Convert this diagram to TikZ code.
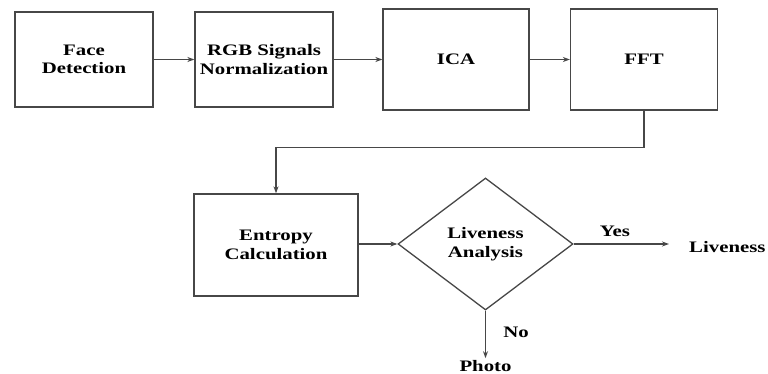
\documentclass[tikz,border=0pt]{standalone}
\usepackage{fontspec}
\setmainfont[FakeStretch=1.3]{Liberation Serif}
\usetikzlibrary{shapes.geometric,arrows.meta}
\begin{document}
\begin{tikzpicture}[x=1pt,y=-1pt,
  stagebox/.style={draw=black!72,line width=1.3pt,rectangle,inner sep=0pt,
    align=center,font=\fontsize{16}{18.5}\selectfont\bfseries},
  decision/.style={draw=black!72,line width=1.3pt,diamond,inner sep=0pt,
    align=center,font=\fontsize{16}{18.5}\selectfont\bfseries},
  plain/.style={inner sep=2pt,font=\fontsize{16}{18.5}\selectfont\bfseries},
  flow/.style={draw=black!72,line width=1.2pt,-{Stealth[length=7pt,width=5pt]}}]
\useasboundingbox (0,0) rectangle (768,374);
% processing chain
\node[stagebox,minimum width=138pt,minimum height=95pt] (face) at (84,59.5) {Face\\Detection};
\node[stagebox,minimum width=138pt,minimum height=95pt] (rgb) at (264,59.5) {RGB Signals\\Normalization};
\node[stagebox,minimum width=146pt,minimum height=101pt] (ica) at (456,59.5) {ICA};
\node[stagebox,minimum width=147pt,minimum height=101pt] (fft) at (644,59.5) {FFT};
\node[stagebox,minimum width=164pt,minimum height=102pt] (ent) at (276,245) {Entropy\\Calculation};
\node[decision,minimum width=175pt,minimum height=132pt] (dec) at (485.5,244) {Liveness\\Analysis};
% outcomes
\node[plain,anchor=west] (live) at (687,247) {Liveness};
\node[plain] (photo) at (485.5,366) {Photo};
\node[plain] (yes) at (615,231) {Yes};
\node[plain] (no) at (516,332) {No};
% connectors
\draw[flow] (face.east) -- (rgb.west);
\draw[flow] (rgb.east) -- (ica.west);
\draw[flow] (ica.east) -- (fft.south west |- ica.east);
\draw[flow] (fft.south) -- ++(0,37) -| (ent.north);
\draw[flow] (ent.east |- dec.west) -- (dec.west);
\draw[flow,shorten >=18pt] (dec.east) -- (dec.east -| live.west);
\draw[flow] (dec.south) -- (photo.north);
\end{tikzpicture}
\end{document}
